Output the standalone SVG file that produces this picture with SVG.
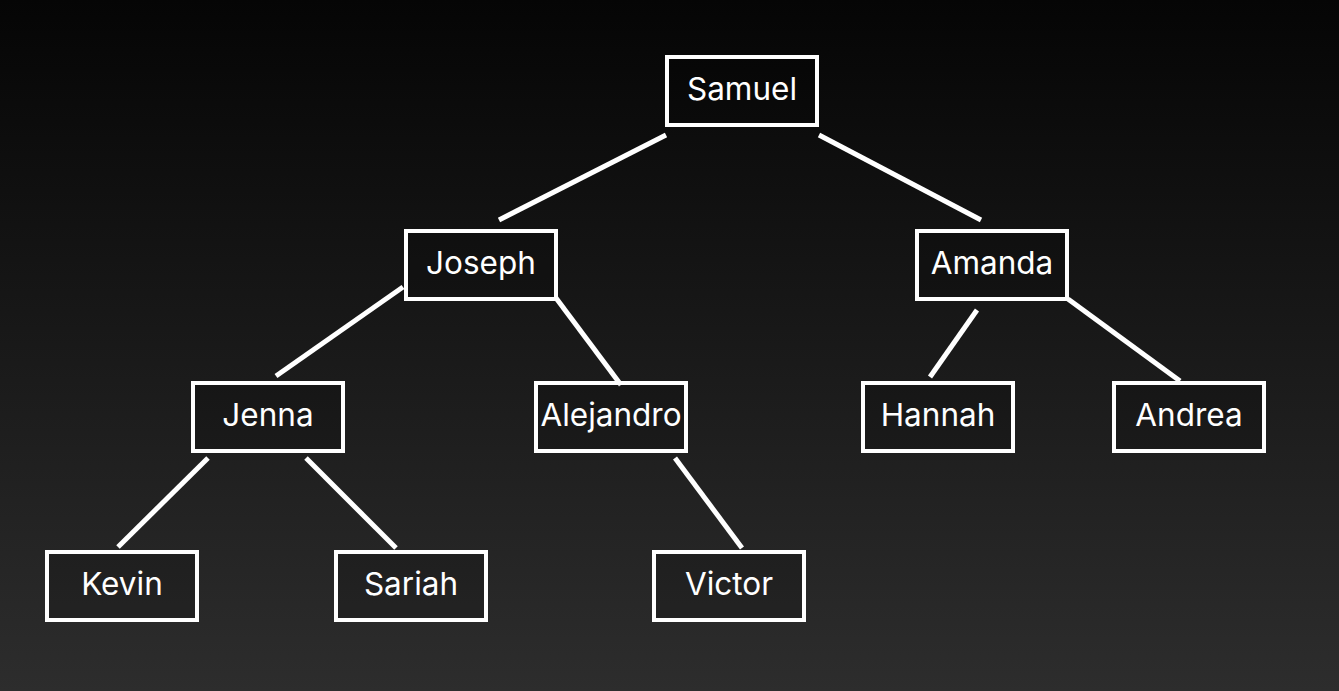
<svg xmlns="http://www.w3.org/2000/svg" width="1339" height="691" viewBox="0 0 1339 691">
<defs>
<linearGradient id="bg" x1="0" y1="0" x2="0" y2="1">
<stop offset="0" stop-color="#050505"/>
<stop offset="1" stop-color="#2d2d2d"/>
</linearGradient>
</defs>
<style>
.box{fill:#000;fill-opacity:0.15;stroke:#fff;stroke-width:4}
.lbl{fill:#fff;font-family:Inter,"Liberation Sans",sans-serif;font-size:31.5px;text-anchor:middle;dominant-baseline:central}
.edge{stroke:#fff;stroke-width:5;fill:none}
</style>
<rect width="1339" height="691" fill="url(#bg)"/>
<g id="connectors">
<line class="edge" x1="666" y1="135" x2="499" y2="220"/>
<line class="edge" x1="819" y1="135" x2="981" y2="220"/>
<line class="edge" x1="403" y1="287" x2="276" y2="376"/>
<line class="edge" x1="556" y1="298" x2="621" y2="385"/>
<line class="edge" x1="977" y1="310" x2="930" y2="377"/>
<line class="edge" x1="1068" y1="299" x2="1180" y2="381"/>
<line class="edge" x1="208" y1="458" x2="118" y2="547"/>
<line class="edge" x1="306" y1="458" x2="396" y2="548"/>
<line class="edge" x1="675" y1="458" x2="742" y2="548"/>
</g>
<g id="samuel"><rect class="box" x="667" y="57" width="150" height="68"/><text class="lbl" x="742" y="88">Samuel</text></g>
<g id="joseph"><rect class="box" x="406" y="231" width="150" height="68"/><text class="lbl" x="481" y="262">Joseph</text></g>
<g id="amanda"><rect class="box" x="917" y="231" width="150" height="68"/><text class="lbl" x="992" y="262">Amanda</text></g>
<g id="jenna"><rect class="box" x="193" y="383" width="150" height="68"/><text class="lbl" x="268" y="414">Jenna</text></g>
<g id="alejandro"><rect class="box" x="536" y="383" width="150" height="68"/><text class="lbl" x="611" y="414">Alejandro</text></g>
<g id="hannah"><rect class="box" x="863" y="383" width="150" height="68"/><text class="lbl" x="938" y="414">Hannah</text></g>
<g id="andrea"><rect class="box" x="1114" y="383" width="150" height="68"/><text class="lbl" x="1189" y="414">Andrea</text></g>
<g id="kevin"><rect class="box" x="47" y="552" width="150" height="68"/><text class="lbl" x="122" y="583">Kevin</text></g>
<g id="sariah"><rect class="box" x="336" y="552" width="150" height="68"/><text class="lbl" x="411" y="583">Sariah</text></g>
<g id="victor"><rect class="box" x="654" y="552" width="150" height="68"/><text class="lbl" x="729" y="583">Victor</text></g>
</svg>
